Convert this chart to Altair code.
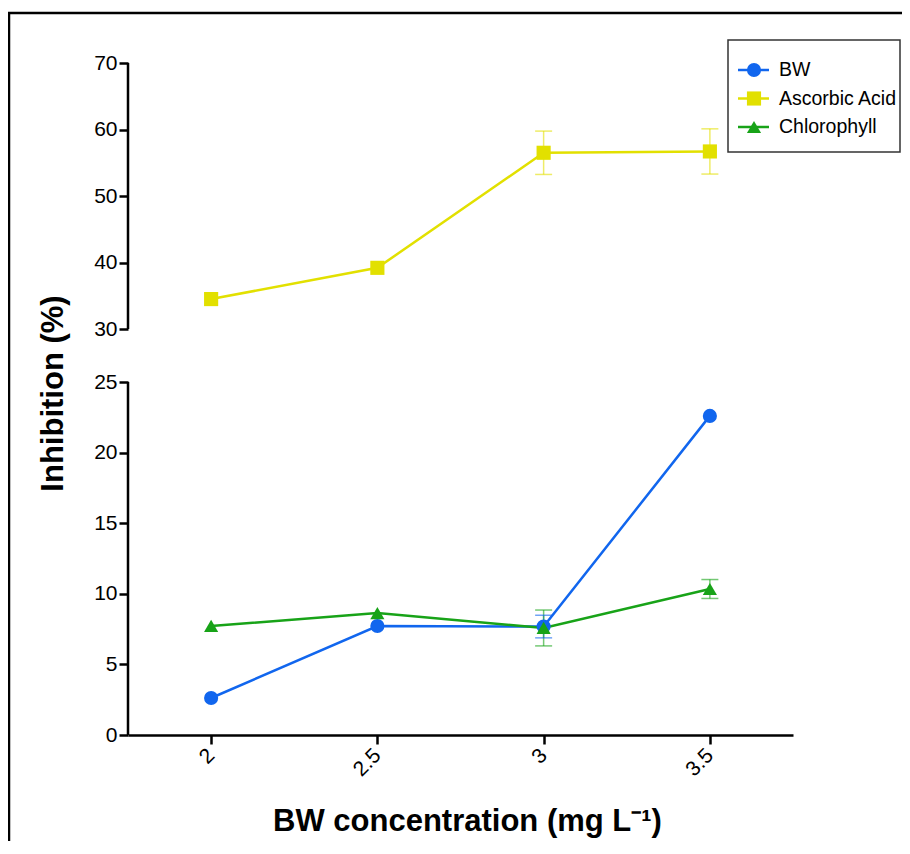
import altair as alt
import pandas as pd

# ---- data ----
x_vals = [2, 2.5, 3, 3.5]
series = ["BW", "Ascorbic Acid", "Chlorophyll"]
bw = [2.62, 7.72, 7.68, 22.6]
bw_err = [0, 0, 0.8, 0]
aa = [34.5, 39.2, 56.5, 56.7]
aa_err = [0, 0, 3.26, 3.4]
ch = [7.72, 8.64, 7.58, 10.34]
ch_err = [0, 0, 1.27, 0.67]

colors = ["#1166ee", "#e2e000", "#18a318"]
shapes = ["circle", "square", "triangle-up"]
x_ticks = [2, 2.5, 3, 3.5]
y_ticks = [0, 5, 10, 15, 20, 25, 30, 40, 50, 60, 70]
seg_lo = [0, 30]
seg_hi = [25, 70]

rows = []
for name, vals, errs in zip(series, [bw, aa, ch], [bw_err, aa_err, ch_err]):
    for xv, v, e in zip(x_vals, vals, errs):
        rows.append({"x": xv, "series": name, "value": v, "err": e,
                     "lo": v - e, "hi": v + e})
df = pd.DataFrame(rows)
seg_df = pd.DataFrame({"lo": seg_lo, "hi": seg_hi})
leg_df = pd.DataFrame({"series": series, "idx": list(range(len(series)))})
one = pd.DataFrame({"a": [0]})

W, H = 665, 672
yscale = alt.Scale(domain=[0, 25, 30, 70], range=[H, 319, 266, 0], zero=False, nice=False)
xscale = alt.Scale(domain=[1.75, 3.75], zero=False, nice=False)
cscale = alt.Scale(domain=series, range=colors)
sscale = alt.Scale(domain=series, range=shapes)

xaxis = alt.Axis(values=x_ticks, format="~g", labelAngle=315, labelFontSize=21,
                 labelAlign="right", labelBaseline="middle",
                 labelPadding=8, tickSize=9, tickWidth=2.5, domainWidth=2.5,
                 grid=False, title="BW concentration (mg L⁻¹)",
                 titleFontSize=31, titleFontWeight="bold", titleX=339, titleY=95,
                 titleBaseline="alphabetic")
yaxis = alt.Axis(values=y_ticks, labelFontSize=21, labelPadding=2, tickSize=9,
                 tickWidth=2.5, domain=False, grid=False, title="Inhibition (%)",
                 titleFontSize=31, titleFontWeight="bold", titleAngle=270,
                 titleX=-66, titleY=330, titleBaseline="alphabetic", titleAlign="center")

base = alt.Chart(df)
X = alt.X("x:Q", scale=xscale, axis=xaxis)
Y = alt.Y("value:Q", scale=yscale, axis=yaxis)
C = alt.Color("series:N", scale=cscale, legend=None)
S = alt.Shape("series:N", scale=sscale, legend=None)

frame = alt.Chart(one).mark_rect(fill=None, stroke="black", strokeWidth=2.5).encode(
    x=alt.value(-119), x2=alt.value(900), y=alt.value(-50), y2=alt.value(900))

yline = alt.Chart(seg_df).mark_rule(color="black", strokeWidth=2.5).encode(
    x=alt.value(0), y=alt.Y("lo:Q", scale=yscale, axis=yaxis), y2="hi:Q")

errs = base.transform_filter("datum.err > 0")
err_rule = errs.mark_rule(strokeWidth=1.5, opacity=0.6).encode(
    x=X, y=alt.Y("lo:Q", scale=yscale, axis=yaxis), y2="hi:Q", color=C)
cap_lo = errs.mark_tick(size=17, thickness=1.5, opacity=0.6, orient="horizontal").encode(
    x=X, y=alt.Y("lo:Q", scale=yscale, axis=yaxis), color=C)
cap_hi = errs.mark_tick(size=17, thickness=1.5, opacity=0.6, orient="horizontal").encode(
    x=X, y=alt.Y("hi:Q", scale=yscale, axis=yaxis), color=C)

lines = base.mark_line(strokeWidth=2.5).encode(x=X, y=Y, color=C, detail="series:N")
points = base.mark_point(filled=True, opacity=1, size=200).encode(x=X, y=Y, color=C, shape=S)

main = alt.layer(frame, yline, err_rule, cap_lo, cap_hi, lines, points)

# ---- legend ----
LY = alt.Y("idx:Q", scale=alt.Scale(domain=[0, 2], range=[7, 64], zero=False, nice=False), axis=None)
leg_box = alt.Chart(one).mark_rect(fill="white", stroke="#333333", strokeWidth=1.5).encode(
    x=alt.value(600), x2=alt.value(772), y=alt.value(-23), y2=alt.value(89))
leg_line = alt.Chart(leg_df).mark_rule(strokeWidth=2.5).encode(
    x=alt.value(610), x2=alt.value(641), y=LY, color=C)
leg_pt = alt.Chart(leg_df).mark_point(filled=True, opacity=1, size=200).encode(
    x=alt.value(626), y=LY, color=C, shape=S)
leg_txt = alt.Chart(leg_df).mark_text(align="left", baseline="middle", fontSize=19.5,
                                      font="Liberation Sans", color="black").encode(
    x=alt.value(651), y=LY, text="series:N")
legend = alt.layer(leg_box, leg_line, leg_pt, leg_txt)

chart = alt.layer(main, legend).resolve_scale(y="independent").properties(
    width=W, height=H,
    autosize=alt.AutoSizeParams(type="none"),
    padding={"left": 120, "top": 55, "right": 109, "bottom": 106},
).configure_axis(
    labelFont="Liberation Sans", titleFont="Liberation Sans",
    labelColor="black", titleColor="black", tickColor="black", domainColor="black",
).configure_view(stroke=None)

chart.save("out.html", embed_options={"renderer": "svg", "actions": False})
